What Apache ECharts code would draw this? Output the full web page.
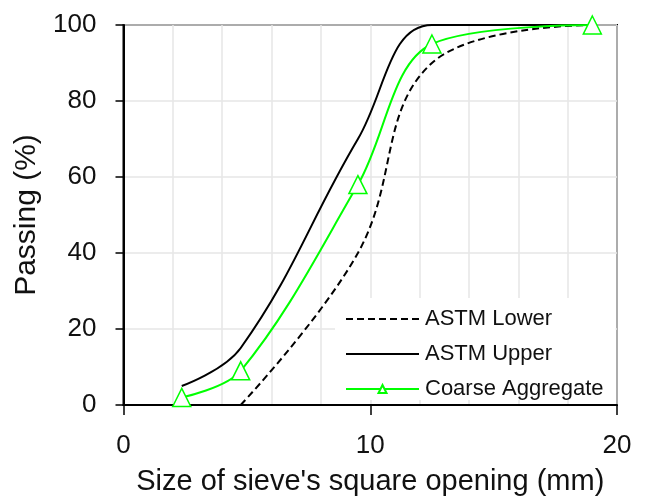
<!DOCTYPE html>
<html>
<head>
<meta charset="utf-8">
<script src="https://cdn.jsdelivr.net/npm/echarts@6/dist/echarts.min.js"></script>
<style>
  html, body { margin: 0; padding: 0; background: #fff; }
  #chart { width: 647px; height: 501px; }
</style>
</head>
<body>
<div id="chart"></div>
<script>
// sieve sizes (mm) and passing (%)
var lowerSizes = [4.75, 9.5, 12.5, 19];
var lowerPassing = [0, 40, 90, 100];
var upperSizes = [2.36, 4.75, 9.5, 12.5, 19];
var upperPassing = [5, 15, 70, 100, 100];
var aggSizes = [2.36, 4.75, 9.5, 12.5, 19];
var aggPassing = [2, 9, 58, 95, 100];

var seriesNames = ['ASTM Lower', 'ASTM Upper', 'Coarse Aggregate'];

function pairs(xs, ys) {
  return xs.map(function (x, i) { return [x, ys[i]]; });
}

var font = "'Liberation Sans', Arial, sans-serif";
var green = '#00ff00';

var myChart = echarts.init(document.getElementById('chart'));
var option = {
  animation: false,
  textStyle: { fontFamily: font, color: '#111' },
  grid: {
    left: 123.5,
    right: 30,
    top: 25,
    bottom: 91,
    show: true,
    borderColor: '#000',
    borderWidth: 2,
    backgroundColor: 'transparent'
  },
  legend: {
    data: [
      // the two limit lines have no markers, hide the legend dot
      { name: seriesNames[0], itemStyle: { opacity: 0 } },
      { name: seriesNames[1], itemStyle: { opacity: 0 } },
      { name: seriesNames[2] }
    ],
    orient: 'vertical',
    left: 335,
    top: 298,
    padding: [10, 12, 0, 10],
    backgroundColor: '#fff',
    itemWidth: 73,
    itemHeight: 10,
    itemGap: 13,
    textStyle: { fontFamily: font, fontSize: 22, color: '#111', padding: [0, 0, 0, 1] }
  },
  xAxis: {
    type: 'value',
    min: 0,
    max: 20,
    interval: 10,
    name: "Size of sieve's square opening (mm)",
    nameLocation: 'middle',
    nameGap: 62,
    nameTextStyle: { fontFamily: font, fontSize: 29, color: '#111' },
    axisLine: { show: true, lineStyle: { color: '#000', width: 2 } },
    axisTick: { show: true, inside: false, length: 10, lineStyle: { color: '#000', width: 1.5 } },
    axisLabel: { fontFamily: font, fontSize: 26, color: '#111', margin: 28 },
    splitLine: { show: true, lineStyle: { color: '#e6e6e6', width: 1.5 } },
    minorTick: { show: false, splitNumber: 5 },
    minorSplitLine: { show: true, lineStyle: { color: '#e6e6e6', width: 1.5 } }
  },
  yAxis: {
    type: 'value',
    min: 0,
    max: 100,
    interval: 20,
    name: 'Passing (%)',
    nameLocation: 'middle',
    nameGap: 76,
    nameTextStyle: { fontFamily: font, fontSize: 30, color: '#111' },
    axisLine: { show: true, lineStyle: { color: '#000', width: 2 } },
    axisTick: { show: true, inside: false, length: 8, lineStyle: { color: '#000', width: 1.5 } },
    axisLabel: { fontFamily: font, fontSize: 26, color: '#111', margin: 27 },
    splitLine: { show: true, lineStyle: { color: '#e6e6e6', width: 1.5 } }
  },
  series: [
    {
      name: seriesNames[0],
      type: 'line',
      data: pairs(lowerSizes, lowerPassing),
      smooth: 0.4,
      showSymbol: false,
      symbol: 'none',
      color: '#000',
      lineStyle: { color: '#000', width: 2, type: [7, 4] }
    },
    {
      name: seriesNames[1],
      type: 'line',
      data: pairs(upperSizes, upperPassing),
      smooth: 0.4,
      showSymbol: false,
      symbol: 'none',
      color: '#000',
      lineStyle: { color: '#000', width: 2 }
    },
    {
      name: seriesNames[2],
      type: 'line',
      data: pairs(aggSizes, aggPassing),
      smooth: 0.35,
      symbol: 'triangle',
      symbolSize: 18,
      color: green,
      itemStyle: { color: '#fff', borderColor: green, borderWidth: 1.5 },
      lineStyle: { color: green, width: 2 },
      z: 3
    }
  ]
};
option && myChart.setOption(option);
</script>
</body>
</html>
